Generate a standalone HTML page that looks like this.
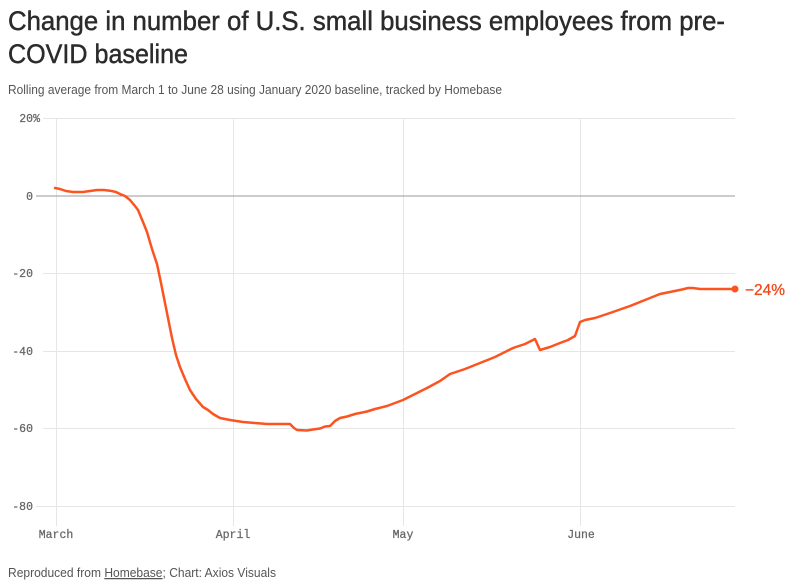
<!DOCTYPE html>
<html><head><meta charset="utf-8"><style>
html,body{margin:0;padding:0;background:#fff;}
svg{display:block;}
</style></head><body>
<svg width="802" height="588" viewBox="0 0 802 588" xmlns="http://www.w3.org/2000/svg">
<rect width="802" height="588" fill="#fff"/>
<text x="8" y="30" font-family="Liberation Sans, sans-serif" font-size="27" fill="#2b2b2b" stroke="#2b2b2b" stroke-width="0.45" textLength="717" lengthAdjust="spacingAndGlyphs">Change in number of U.S. small business employees from pre-</text>
<text x="8" y="63" font-family="Liberation Sans, sans-serif" font-size="27" fill="#2b2b2b" stroke="#2b2b2b" stroke-width="0.45" textLength="180" lengthAdjust="spacingAndGlyphs">COVID baseline</text>
<text x="8" y="94" font-family="Liberation Sans, sans-serif" font-size="12.5" fill="#555" textLength="494" lengthAdjust="spacingAndGlyphs">Rolling average from March 1 to June 28 using January 2020 baseline, tracked by Homebase</text>

<g stroke="#e6e6e6" stroke-width="1">
<line x1="43" y1="118.5" x2="735" y2="118.5"/>
<line x1="43" y1="273.5" x2="735" y2="273.5"/>
<line x1="43" y1="351.5" x2="735" y2="351.5"/>
<line x1="43" y1="428.5" x2="735" y2="428.5"/>
<line x1="36" y1="506.5" x2="735" y2="506.5"/>
<line x1="56.5" y1="118" x2="56.5" y2="526"/>
<line x1="233.5" y1="118" x2="233.5" y2="526"/>
<line x1="403.5" y1="118" x2="403.5" y2="526"/>
<line x1="580.5" y1="118" x2="580.5" y2="526"/>
</g>
<line x1="36" y1="196" x2="735" y2="196" stroke="#999" stroke-width="1"/>

<g font-family="Liberation Mono, monospace" font-size="11.5" fill="#666" stroke="#666" stroke-width="0.25" text-anchor="end">
<text x="40" y="122">20%</text>
<text x="33" y="200">0</text>
<text x="33" y="277">-20</text>
<text x="33" y="355">-40</text>
<text x="33" y="432">-60</text>
<text x="33" y="510">-80</text>
</g>
<g font-family="Liberation Mono, monospace" font-size="11.5" fill="#666" stroke="#666" stroke-width="0.25" text-anchor="middle">
<text x="56" y="538">March</text>
<text x="233" y="538">April</text>
<text x="403" y="538">May</text>
<text x="581" y="538">June</text>
</g>

<polyline fill="none" stroke="#fc5420" stroke-width="2.5" stroke-linejoin="round" stroke-linecap="round" points="55,188 60,189 66,191 73,192 83,192 90,191 97,190 104,190 110,190.7 116,192 120,194 125,196 130,200 135,206 138,210 143,222 147,232 152,249 157,264 161,283 165,303 169,323 172,338 176,355 180,367 185,379 190,390 196,399 203,407 208,410 213,414 220,418 230,420 243,422 255,423 267,424 280,424 290,424 294,428 297,430 307,430.5 313,429.5 320,428.5 325,426.5 330,426 335,421 340,418 347,416.5 355,414 367,411.5 375,409 387,406 395,403 403,400 415,394 427,388 440,381 450,374 465,369 480,363 495,357 513,348 525,344 535,339 540,350 550,347 560,343 568,340 575,336 580,322 585,320 595,318 610,313 630,306 645,300 660,294 670,292 682,289.5 688,288 693,288 700,289 735,289"/>
<circle cx="735" cy="289" r="3.5" fill="#fc5420"/>
<text x="745" y="295" font-family="Liberation Sans, sans-serif" font-size="15.5" fill="#f04a1c" stroke="#f04a1c" stroke-width="0.3">−24%</text>

<text x="8" y="577" font-family="Liberation Sans, sans-serif" font-size="12.5" fill="#555" textLength="268" lengthAdjust="spacingAndGlyphs">Reproduced from <tspan text-decoration="underline">Homebase</tspan>; Chart: Axios Visuals</text>
</svg>
</body></html>
